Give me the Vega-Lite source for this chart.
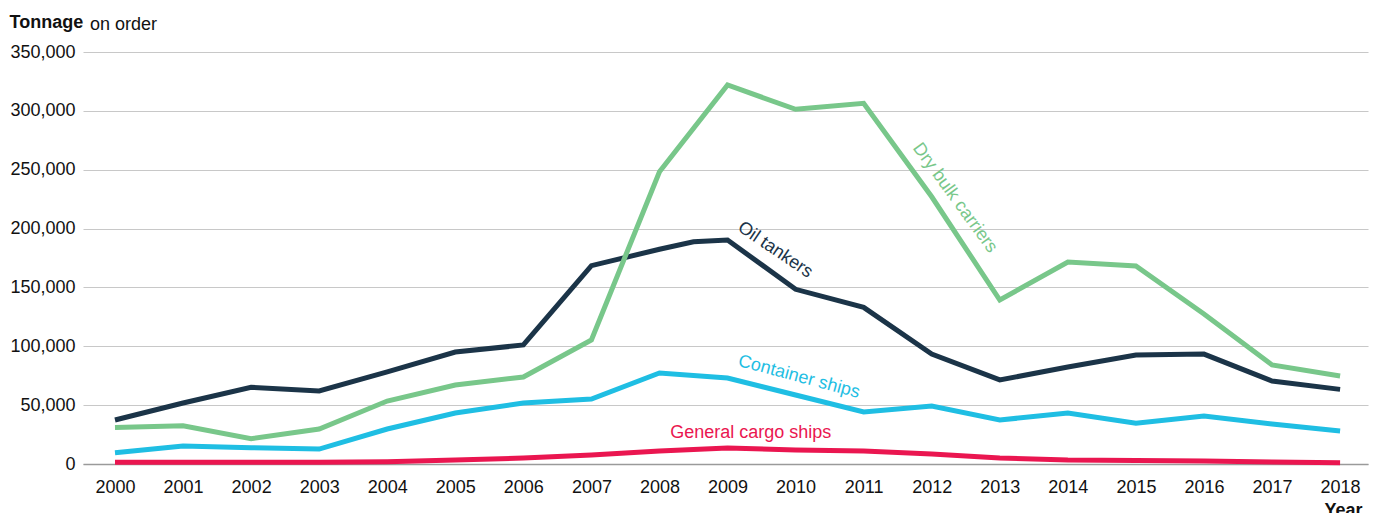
{
  "$schema": "https://vega.github.io/schema/vega-lite/v6.json",
  "width": 1285,
  "height": 412,
  "autosize": "none",
  "padding": {"left": 83, "top": 52, "right": 13, "bottom": 49},
  "background": "white",
  "config": {
    "view": {"stroke": null},
    "font": "Liberation Sans",
    "title": {"font": "Liberation Sans", "fontSize": 18, "fontWeight": "normal", "color": "#111111"}
  },
  "title": {
    "text": "on order",
    "anchor": "start",
    "frame": "group",
    "dx": 7,
    "baseline": "alphabetic",
    "offset": 0,
    "dy": 35
  },
  "datasets": {
    "lines": [
      {"series": "General cargo ships", "year": 2000, "value": 1500},
      {"series": "General cargo ships", "year": 2001, "value": 1500},
      {"series": "General cargo ships", "year": 2002, "value": 1500},
      {"series": "General cargo ships", "year": 2003, "value": 1500},
      {"series": "General cargo ships", "year": 2004, "value": 2000},
      {"series": "General cargo ships", "year": 2005, "value": 3400},
      {"series": "General cargo ships", "year": 2006, "value": 5100},
      {"series": "General cargo ships", "year": 2007, "value": 7600},
      {"series": "General cargo ships", "year": 2008, "value": 11000},
      {"series": "General cargo ships", "year": 2009, "value": 13600},
      {"series": "General cargo ships", "year": 2010, "value": 11900},
      {"series": "General cargo ships", "year": 2011, "value": 11000},
      {"series": "General cargo ships", "year": 2012, "value": 8500},
      {"series": "General cargo ships", "year": 2013, "value": 5100},
      {"series": "General cargo ships", "year": 2014, "value": 3400},
      {"series": "General cargo ships", "year": 2015, "value": 3000},
      {"series": "General cargo ships", "year": 2016, "value": 2500},
      {"series": "General cargo ships", "year": 2017, "value": 1700},
      {"series": "General cargo ships", "year": 2018, "value": 1100},
      {"series": "Container ships", "year": 2000, "value": 9600},
      {"series": "Container ships", "year": 2001, "value": 15300},
      {"series": "Container ships", "year": 2002, "value": 13900},
      {"series": "Container ships", "year": 2003, "value": 12700},
      {"series": "Container ships", "year": 2004, "value": 29700},
      {"series": "Container ships", "year": 2005, "value": 43300},
      {"series": "Container ships", "year": 2006, "value": 51800},
      {"series": "Container ships", "year": 2007, "value": 55200},
      {"series": "Container ships", "year": 2008, "value": 77300},
      {"series": "Container ships", "year": 2009, "value": 73000},
      {"series": "Container ships", "year": 2010, "value": 58600},
      {"series": "Container ships", "year": 2011, "value": 44200},
      {"series": "Container ships", "year": 2012, "value": 49300},
      {"series": "Container ships", "year": 2013, "value": 37400},
      {"series": "Container ships", "year": 2014, "value": 43300},
      {"series": "Container ships", "year": 2015, "value": 34600},
      {"series": "Container ships", "year": 2016, "value": 40800},
      {"series": "Container ships", "year": 2017, "value": 34000},
      {"series": "Container ships", "year": 2018, "value": 28000},
      {"series": "Oil tankers", "year": 2000, "value": 37400},
      {"series": "Oil tankers", "year": 2001, "value": 51800},
      {"series": "Oil tankers", "year": 2002, "value": 65200},
      {"series": "Oil tankers", "year": 2003, "value": 62000},
      {"series": "Oil tankers", "year": 2004, "value": 78200},
      {"series": "Oil tankers", "year": 2005, "value": 95100},
      {"series": "Oil tankers", "year": 2006, "value": 101100},
      {"series": "Oil tankers", "year": 2007, "value": 168500},
      {"series": "Oil tankers", "year": 2008, "value": 182400},
      {"series": "Oil tankers", "year": 2008.5, "value": 188800},
      {"series": "Oil tankers", "year": 2009, "value": 190300},
      {"series": "Oil tankers", "year": 2010, "value": 148400},
      {"series": "Oil tankers", "year": 2011, "value": 133100},
      {"series": "Oil tankers", "year": 2012, "value": 93400},
      {"series": "Oil tankers", "year": 2013, "value": 71400},
      {"series": "Oil tankers", "year": 2014, "value": 82400},
      {"series": "Oil tankers", "year": 2015, "value": 92600},
      {"series": "Oil tankers", "year": 2016, "value": 93400},
      {"series": "Oil tankers", "year": 2017, "value": 70500},
      {"series": "Oil tankers", "year": 2018, "value": 63400},
      {"series": "Dry bulk carriers", "year": 2000, "value": 31000},
      {"series": "Dry bulk carriers", "year": 2001, "value": 32500},
      {"series": "Dry bulk carriers", "year": 2002, "value": 21500},
      {"series": "Dry bulk carriers", "year": 2003, "value": 29700},
      {"series": "Dry bulk carriers", "year": 2004, "value": 53500},
      {"series": "Dry bulk carriers", "year": 2005, "value": 67100},
      {"series": "Dry bulk carriers", "year": 2006, "value": 73900},
      {"series": "Dry bulk carriers", "year": 2007, "value": 105300},
      {"series": "Dry bulk carriers", "year": 2008, "value": 248300},
      {"series": "Dry bulk carriers", "year": 2009, "value": 322000},
      {"series": "Dry bulk carriers", "year": 2010, "value": 301300},
      {"series": "Dry bulk carriers", "year": 2011, "value": 306400},
      {"series": "Dry bulk carriers", "year": 2012, "value": 227000},
      {"series": "Dry bulk carriers", "year": 2013, "value": 139300},
      {"series": "Dry bulk carriers", "year": 2014, "value": 171600},
      {"series": "Dry bulk carriers", "year": 2015, "value": 168200},
      {"series": "Dry bulk carriers", "year": 2016, "value": 127400},
      {"series": "Dry bulk carriers", "year": 2017, "value": 84100},
      {"series": "Dry bulk carriers", "year": 2018, "value": 74800}
    ]
  },
  "encoding": {
    "x": {
      "field": "year",
      "type": "quantitative",
      "scale": {"domain": [1999.53, 2018.41], "nice": false, "zero": false},
      "axis": {
        "title": "Year",
        "titleFontSize": 18,
        "titleFontWeight": "bold",
        "titleColor": "#111111",
        "titleAlign": "right",
        "titleAnchor": "end",
        "titleBaseline": "alphabetic",
        "titleX": 1279,
        "titleY": 51,
        "values": [2000, 2001, 2002, 2003, 2004, 2005, 2006, 2007, 2008, 2009, 2010, 2011, 2012, 2013, 2014, 2015, 2016, 2017, 2018],
        "format": "d",
        "labelFontSize": 18,
        "labelColor": "#111111",
        "labelBaseline": "alphabetic",
        "labelPadding": 28,
        "labelFlush": false,
        "labelOverlap": false,
        "ticks": false,
        "tickSize": 0,
        "grid": false,
        "domain": true,
        "domainColor": "#9a9a9a",
        "domainWidth": 1.5
      }
    },
    "y": {
      "field": "value",
      "type": "quantitative",
      "scale": {"domain": [0, 350000], "nice": false},
      "axis": {
        "title": "Tonnage",
        "titleFontSize": 18,
        "titleFontWeight": "bold",
        "titleColor": "#111111",
        "titleAngle": 0,
        "titleAlign": "left",
        "titleBaseline": "alphabetic",
        "titleX": -74,
        "titleY": -25,
        "values": [0, 50000, 100000, 150000, 200000, 250000, 300000, 350000],
        "format": ",d",
        "labelFontSize": 18,
        "labelColor": "#111111",
        "labelPadding": 8,
        "ticks": false,
        "tickSize": 0,
        "domain": false,
        "grid": true,
        "gridColor": "#c8c8c8",
        "gridWidth": 1.2
      }
    }
  },
  "layer": [
    {
      "data": {"name": "lines"},
      "mark": {"type": "line", "strokeWidth": 5, "strokeCap": "butt", "strokeJoin": "miter"},
      "encoding": {
        "color": {
          "field": "series",
          "type": "nominal",
          "scale": {
            "domain": ["General cargo ships", "Container ships", "Oil tankers", "Dry bulk carriers"],
            "range": ["#ea1650", "#1fbee3", "#1b3448", "#78c78a"]
          },
          "legend": null
        },
        "order": {"field": "year", "type": "quantitative"}
      }
    },
    {
      "data": {"values": [{"label": "Dry bulk carriers", "year": 2012.34, "value": 226000}]},
      "mark": {"type": "text", "angle": 54, "align": "center", "baseline": "middle", "fontSize": 18, "color": "#78c78a"},
      "encoding": {"text": {"field": "label"}}
    },
    {
      "data": {"values": [{"label": "Oil tankers", "year": 2009.7, "value": 181800}]},
      "mark": {"type": "text", "angle": 34, "align": "center", "baseline": "middle", "fontSize": 18, "color": "#1b3448"},
      "encoding": {"text": {"field": "label"}}
    },
    {
      "data": {"values": [{"label": "Container ships", "year": 2010.05, "value": 73900}]},
      "mark": {"type": "text", "angle": 15, "align": "center", "baseline": "middle", "fontSize": 18, "color": "#1fbee3"},
      "encoding": {"text": {"field": "label"}}
    },
    {
      "data": {"values": [{"label": "General cargo ships", "year": 2009.34, "value": 26300}]},
      "mark": {"type": "text", "angle": 0, "align": "center", "baseline": "middle", "fontSize": 18, "color": "#ea1650"},
      "encoding": {"text": {"field": "label"}}
    }
  ]
}
